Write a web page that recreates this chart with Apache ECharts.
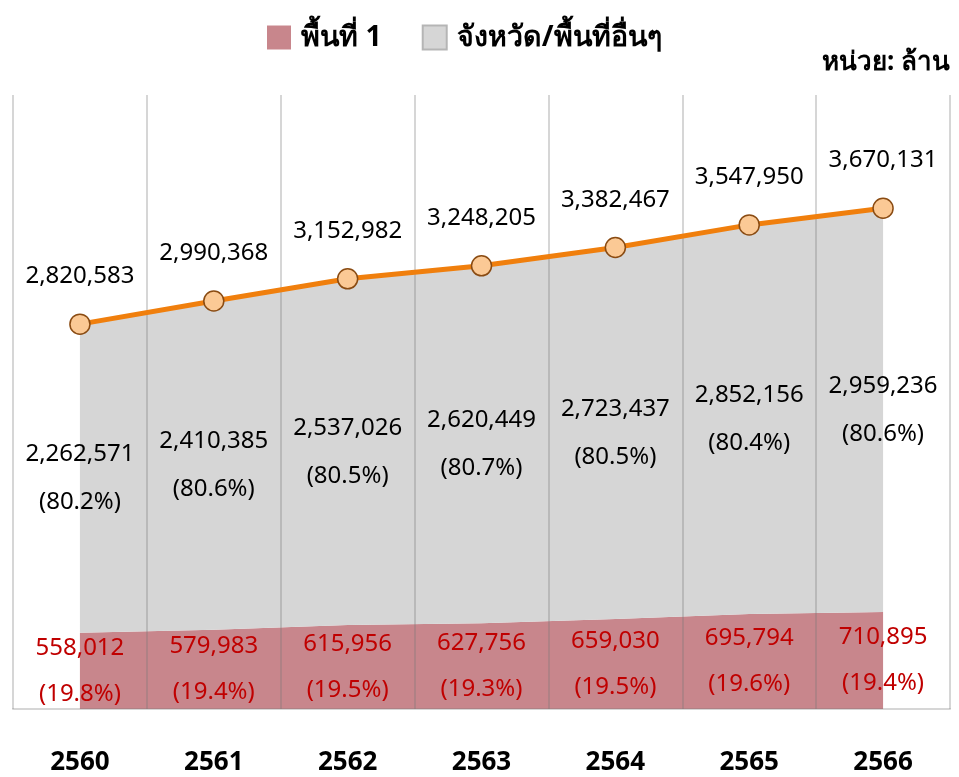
<!DOCTYPE html>
<html>
<head>
<meta charset="utf-8">
<script src="https://cdn.jsdelivr.net/npm/echarts@6/dist/echarts.min.js"></script>
<style>
  html, body { margin: 0; padding: 0; background: #fff; }
  #chart { width: 959px; height: 777px; }
</style>
</head>
<body>
<div id="chart"></div>
<script>
const years = ["2560", "2561", "2562", "2563", "2564", "2565", "2566"];
const area1 = [558012, 579983, 615956, 627756, 659030, 695794, 710895];
const others = [2262571, 2410385, 2537026, 2620449, 2723437, 2852156, 2959236];
const totals = [2820583, 2990368, 3152982, 3248205, 3382467, 3547950, 3670131];

const font = "'Noto Sans', 'DejaVu Sans', sans-serif";
const fmt = (v) => v.toLocaleString("en-US");
const pct = (v, t) => "(" + ((v / t) * 100).toFixed(1) + "%)";

// label anchors: middle of each band
const redMid = area1.map((v, i) => [i, v / 2]);
const grayMid = others.map((v, i) => [i, area1[i] + v / 2]);

let chart = echarts.init(document.getElementById("chart"));
let option = {
  animation: false,
  textStyle: { fontFamily: font },
  legend: {
    top: 18,
    left: 262,
    itemWidth: 24,
    itemHeight: 24,
    itemGap: 40,
    icon: "rect",
    textStyle: { fontSize: 28.5, fontWeight: "bold", color: "#000", fontFamily: font, padding: [0, 0, 0, 5] },
    data: [
      { name: "พื้นที่ 1", itemStyle: { color: "#c8868c", borderWidth: 0 } },
      { name: "จังหวัด/พื้นที่อื่นๆ", itemStyle: { color: "#d6d6d6", borderColor: "#b5b5b5", borderWidth: 2 } },
    ],
  },
  graphic: [
    {
      type: "text",
      right: 9,
      top: 50,
      style: { text: "หน่วย: ล้าน", font: "bold 26px " + font, fill: "#000" },
    },
  ],
  grid: { left: 13, right: 9, top: 95, bottom: 68 },
  xAxis: {
    type: "category",
    data: years,
    boundaryGap: true,
    z: 3,
    axisLine: { lineStyle: { color: "rgba(120,120,120,0.3)", width: 2 } },
    axisTick: { length: 12, lineStyle: { color: "rgba(120,120,120,0.3)", width: 2 } },
    splitLine: { show: true, lineStyle: { color: "rgba(120,120,120,0.3)", width: 2 } },
    axisLabel: { fontSize: 26, fontWeight: "bold", color: "#000", margin: 41 },
  },
  yAxis: {
    type: "value",
    min: 0,
    max: 4500000,
    show: false,
    splitLine: { show: false },
  },
  series: [
    {
      name: "พื้นที่ 1",
      type: "line",
      stack: "t",
      z: 2,
      symbol: "none",
      lineStyle: { width: 0 },
      areaStyle: { color: "#c8868c", opacity: 1 },
      itemStyle: { color: "#c8868c" },
      data: area1,
    },
    {
      name: "จังหวัด/พื้นที่อื่นๆ",
      type: "line",
      stack: "t",
      z: 2,
      symbol: "none",
      lineStyle: { width: 0 },
      areaStyle: { color: "#d6d6d6", opacity: 1 },
      itemStyle: { color: "#d6d6d6" },
      data: others,
    },
    {
      name: "total",
      type: "line",
      z: 4,
      data: totals,
      symbol: "circle",
      symbolSize: 20,
      lineStyle: { color: "#f07f0d", width: 5 },
      itemStyle: { color: "#fbc995", borderColor: "#8a4b12", borderWidth: 1.5 },
      label: {
        show: true,
        position: "top",
        distance: 25,
        fontSize: 24,
        color: "#000",
        formatter: (p) => fmt(p.value),
      },
    },
    {
      type: "scatter",
      z: 5,
      symbolSize: 0,
      silent: true,
      itemStyle: { opacity: 1 },
      data: grayMid,
      label: {
        show: true,
        position: "inside",
        fontSize: 24,
        color: "#000",
        lineHeight: 48,
        formatter: (p) => fmt(others[p.dataIndex]) + "\n" + pct(others[p.dataIndex], totals[p.dataIndex]),
      },
    },
    {
      type: "scatter",
      z: 5,
      symbolSize: 0,
      silent: true,
      itemStyle: { opacity: 1 },
      data: redMid,
      label: {
        show: true,
        position: "inside",
        fontSize: 24,
        color: "#c00000",
        lineHeight: 46,
        formatter: (p) => fmt(area1[p.dataIndex]) + "\n" + pct(area1[p.dataIndex], totals[p.dataIndex]),
      },
    },
  ],
};
chart.setOption(option);
</script>
</body>
</html>
